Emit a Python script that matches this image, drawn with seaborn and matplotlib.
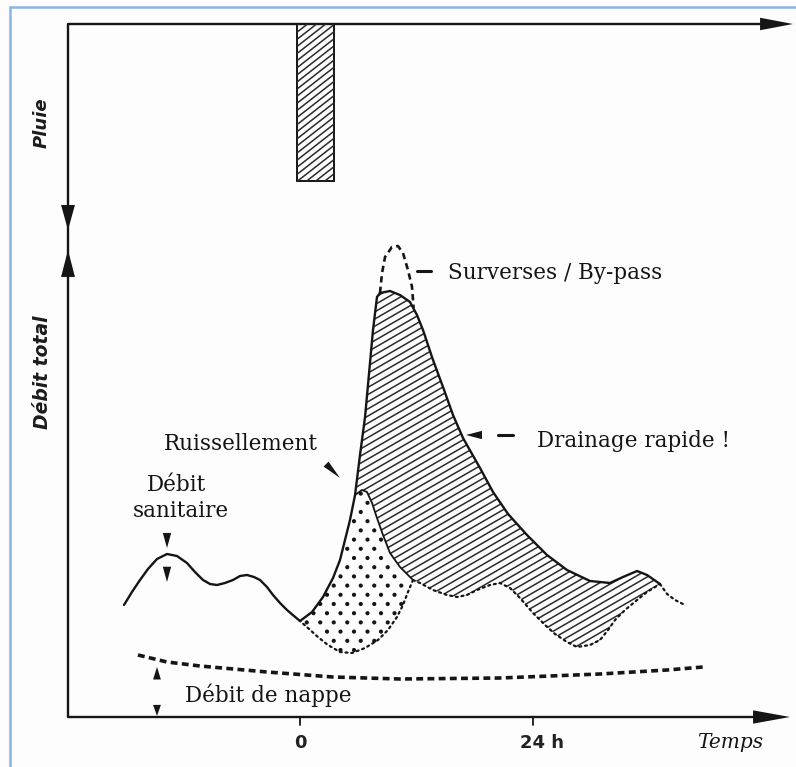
import numpy as np
import matplotlib
matplotlib.use("Agg")
import matplotlib.pyplot as plt
import seaborn as sns
from matplotlib.path import Path
from matplotlib.patches import Polygon
from matplotlib.collections import LineCollection
from matplotlib.lines import Line2D

# ---------------- data (time in hours, flow in arbitrary units) ----------------
total_t = [-18.13, -17.31, -16.48, -15.66, -14.73, -13.70, -12.67, -11.64, -10.82, -9.99,
           -9.27, -8.55, -7.73, -6.90, -6.18, -5.46, -4.74, -4.12, -3.40, -2.78,
           -2.06, -1.34, -0.62, 0.00, 1.24, 2.37, 3.40, 4.12, 5.15, 5.67,
           6.18, 6.70, 7.21, 7.52, 7.93, 8.24, 9.27, 10.30, 11.33, 12.05,
           12.67, 13.70, 14.73, 15.76, 16.79, 18.54, 19.88, 21.43, 23.38, 25.44,
           27.50, 29.87, 31.93, 33.27, 34.72, 35.75, 37.08]
total_q = [22.4, 25.0, 27.4, 29.6, 31.6, 32.6, 32.2, 30.8, 29.0, 27.4,
           26.6, 26.4, 26.8, 27.4, 28.2, 28.4, 28.0, 27.4, 26.0, 24.4,
           22.8, 21.4, 20.2, 19.2, 21.0, 24.0, 27.8, 31.4, 39.4, 44.4,
           52.4, 60.0, 70.8, 77.4, 84.0, 84.8, 85.2, 84.4, 83.0, 80.4,
           77.4, 71.4, 66.0, 60.4, 55.8, 49.8, 45.0, 40.6, 36.4, 32.4,
           29.4, 27.2, 26.8, 28.0, 29.2, 28.4, 26.6]

tail_t = [37.08, 37.81, 38.63, 39.45]
tail_q = [26.6, 24.6, 23.4, 22.6]

overflow_t = [8.24, 8.45, 8.76, 9.47, 10.09, 10.61, 11.12, 11.54, 11.70]
overflow_q = [84.8, 88.8, 92.0, 94.0, 94.2, 92.8, 89.4, 86.0, 81.8]

runoff_top_t = [5.67, 6.38, 6.90, 7.42, 7.93, 8.55, 9.27, 10.30, 11.02, 11.64]
runoff_top_q = [44.4, 45.4, 45.0, 42.8, 39.8, 36.4, 32.8, 30.0, 28.6, 27.4]

runoff_low_t = [11.64, 11.12, 10.61, 9.99, 9.06, 8.03, 6.70, 5.36, 4.12, 2.88, 1.85, 0.82, 0.00]
runoff_low_q = [27.4, 25.0, 22.4, 20.0, 17.4, 15.4, 13.8, 12.8, 13.0, 14.4, 16.0, 17.8, 19.2]

drain_low_t = [11.64, 12.36, 13.70, 15.14, 16.17, 17.20, 18.23, 19.57, 20.60, 21.63,
               22.66, 24.00, 25.24, 26.27, 27.50, 28.53, 29.87, 30.90, 31.73, 32.45,
               33.48, 34.72, 35.75, 37.08]
drain_low_q = [27.4, 26.8, 25.4, 24.4, 24.0, 24.4, 25.4, 26.4, 26.8, 25.8,
               23.8, 20.8, 18.4, 16.6, 15.0, 14.0, 14.4, 15.4, 17.4, 19.4,
               21.4, 23.4, 25.0, 26.6]

nappe_t = [-16.69, -13.70, -10.30, -3.40, 3.40, 10.30, 20.60, 30.90, 37.81, 41.51]
nappe_q = [12.4, 11.0, 10.2, 9.0, 8.0, 7.6, 7.8, 8.6, 9.4, 10.0]

rain_start_h = -0.3
rain_end_h = 3.5
rain_depth = 31.4

tick_hours = [0, 24]
tick_labels = ["0", "24 h"]

# ---------------- layout ----------------
W, H, DPI = 796, 767, 100
PX_PER_H = 233 / 24
PX_PER_Q = 5.0
X_ORIGIN = 300
Y_BASE = 717
Y_TOP = 24
X_AXIS = 68
INK = "#151515"
TXT = "#141414"
SERIF = "DejaVu Serif"


def t_of(px):
    return (px - X_ORIGIN) / PX_PER_H


def q_of(py):
    return (Y_BASE - py) / PX_PER_Q


sns.set_theme(style="white")
plt.rcParams["font.family"] = ["DejaVu Sans"]

fig = plt.figure(figsize=(W / DPI, H / DPI), dpi=DPI)
fig.patch.set_facecolor("#fdfdfd")
ax = fig.add_axes([0, 0, 1, 1])
ax.set_facecolor("none")
ax.axis("off")
ax.set_xlim(t_of(0), t_of(W))
ax.set_ylim(q_of(H), q_of(0))

ax_r = ax.twinx()
ax_r.axis("off")
ax_r.set_ylim((H - Y_TOP) / PX_PER_Q, (0 - Y_TOP) / PX_PER_Q)


def patch_vertices(p):
    return p.get_patch_transform().transform(p.get_path().vertices)


def hatch(axis, clip, sx, sy, angle, spacing, lw=1.1, color="#2a2a2a"):
    v = patch_vertices(clip)
    px = np.column_stack([v[:, 0] * sx, v[:, 1] * sy])
    th = np.radians(angle)
    d = np.array([np.cos(th), np.sin(th)])
    n = np.array([-np.sin(th), np.cos(th)])
    pn, pd_ = px @ n, px @ d
    segs = []
    for s in np.arange(pn.min() - spacing, pn.max() + spacing, spacing):
        p1 = n * s + d * (pd_.min() - 5)
        p2 = n * s + d * (pd_.max() + 5)
        segs.append([(p1[0] / sx, p1[1] / sy), (p2[0] / sx, p2[1] / sy)])
    lc = LineCollection(segs, colors=color, linewidths=lw)
    axis.add_collection(lc, autolim=False)
    lc.set_clip_path(clip)


def dots(axis, poly, sx, sy, dx, dy, size=7):
    v = patch_vertices(poly)
    pxv = np.column_stack([v[:, 0] * sx, v[:, 1] * sy])
    path = Path(pxv)
    pts = []
    for i, yy in enumerate(np.arange(pxv[:, 1].min() + 3, pxv[:, 1].max(), dy)):
        off = dx / 2 if i % 2 else 0
        for xx in np.arange(pxv[:, 0].min() + off, pxv[:, 0].max(), dx):
            pts.append((xx, yy))
    pts = np.array(pts)
    sel = pts[path.contains_points(pts, radius=-2.5) & path.contains_points(pts, radius=2.5)]
    sns.scatterplot(x=sel[:, 0] / sx, y=sel[:, 1] / sy, ax=axis, s=size,
                    color=INK, edgecolor="none", linewidth=0, legend=False)


def head(tail, tip, hl, hw, axis=ax):
    axis.annotate("", xy=tip, xytext=tail,
                  arrowprops=dict(arrowstyle=f"-|>,head_length={hl},head_width={hw}",
                                  color=INK, lw=0, shrinkA=0, shrinkB=0,
                                  mutation_scale=10))


tt = np.array(total_t)
tq = np.array(total_q)

# ---- drainage (hatched) region ----
m = (tt >= runoff_top_t[0]) & (tt <= drain_low_t[-1])
drain_xy = np.column_stack([
    np.concatenate([tt[m], drain_low_t[::-1][1:], runoff_top_t[::-1][1:]]),
    np.concatenate([tq[m], drain_low_q[::-1][1:], runoff_top_q[::-1][1:]])])
drain_poly = Polygon(drain_xy, closed=True, facecolor="none", edgecolor="none")
ax.add_patch(drain_poly)
hatch(ax, drain_poly, PX_PER_H, PX_PER_Q, angle=30, spacing=6.2)

# ---- runoff (dotted) region ----
m2 = (tt >= runoff_low_t[-1]) & (tt <= runoff_top_t[0])
runoff_xy = np.column_stack([
    np.concatenate([tt[m2], runoff_top_t[1:], runoff_low_t[1:]]),
    np.concatenate([tq[m2], runoff_top_q[1:], runoff_low_q[1:]])])
runoff_poly = Polygon(runoff_xy, closed=True, facecolor="none", edgecolor="none")
ax.add_patch(runoff_poly)
dots(ax, runoff_poly, PX_PER_H, PX_PER_Q, dx=13.5, dy=9.2, size=9)

# ---- rain bar ----
bars = ax_r.bar(rain_start_h, rain_depth, width=rain_end_h - rain_start_h, align="edge",
                facecolor="none", edgecolor=INK, linewidth=1.4)
hatch(ax_r, bars.patches[0], PX_PER_H, -PX_PER_Q, angle=38, spacing=5.6)

# ---- curves ----
sns.lineplot(x=total_t, y=total_q, ax=ax, sort=False, estimator=None, color=INK, lw=1.7)
sns.lineplot(x=runoff_top_t, y=runoff_top_q, ax=ax, sort=False, estimator=None, color=INK, lw=1.3)
sns.lineplot(x=overflow_t, y=overflow_q, ax=ax, sort=False, estimator=None, color=INK,
             lw=1.9, linestyle=(0, (2.4, 1.6)))
dotted = dict(sort=False, estimator=None, color=INK, lw=1.6,
              linestyle=(0, (0.9, 1.7)), dash_capstyle="round")
sns.lineplot(x=drain_low_t, y=drain_low_q, ax=ax, **dotted)
sns.lineplot(x=runoff_low_t, y=runoff_low_q, ax=ax, **dotted)
sns.lineplot(x=tail_t, y=tail_q, ax=ax, **dotted)
sns.lineplot(x=nappe_t, y=nappe_q, ax=ax, sort=False, estimator=None, color=INK,
             lw=2.6, linestyle=(0, (1.9, 1.2)))

# ---- axes (hand-drawn style) ----
ta = t_of(X_AXIS)
ax.plot([ta, ta], [0, q_of(Y_TOP)], color=INK, lw=1.7, solid_capstyle="butt")
ax.plot([ta, t_of(770)], [q_of(Y_TOP)] * 2, color=INK, lw=1.7)
ax.plot([ta, t_of(765)], [0, 0], color=INK, lw=1.7)
head((t_of(760), q_of(Y_TOP)), (t_of(793), q_of(Y_TOP)), 2.37, 0.45)
head((t_of(753), 0), (t_of(790), 0), 2.66, 0.48)
head((ta, q_of(205)), (ta, q_of(230)), 1.8, 0.5)
head((ta, q_of(277)), (ta, q_of(250)), 1.94, 0.5)

for h, lab in zip(tick_hours, tick_labels):
    ax.plot([h, h], [0, q_of(725)], color=INK, lw=1.3)
    ax.annotate(lab, xy=(h, 0), xytext=(6.5 if " " in lab else 0, -22),
                textcoords="offset points", ha="center", va="baseline",
                fontsize=13, fontweight="bold", color="#222222")

# ---- annotation marks ----
head((t_of(326), q_of(464)), (t_of(340), q_of(478)), 1.42, 0.25)
head((t_of(482), q_of(435)), (t_of(466), q_of(435)), 1.15, 0.3)
ax.plot([t_of(498), t_of(513)], [q_of(435)] * 2, color=INK, lw=2.2)
ax.plot([t_of(417), t_of(431)], [q_of(271)] * 2, color=INK, lw=2.2)
head((t_of(167), q_of(533)), (t_of(167), q_of(548)), 1.08, 0.3)
head((t_of(167), q_of(566)), (t_of(167), q_of(582)), 1.1, 0.3)
head((t_of(157), q_of(681)), (t_of(157), q_of(667)), 0.9, 0.28)
head((t_of(157), q_of(705)), (t_of(157), q_of(716)), 0.8, 0.28)

# ---- texts ----
tk = dict(fontfamily=SERIF, fontsize=15.5, color=TXT, va="baseline")
ax.text(t_of(448), q_of(279), "Surverses / By-pass", ha="left", **tk)
ax.text(t_of(537), q_of(447), "Drainage rapide !", ha="left", **tk)
ax.text(t_of(241), q_of(450), "Ruissellement", ha="center", **tk)
ax.text(t_of(177), q_of(491), "Débit", ha="center", **tk)
ax.text(t_of(181), q_of(517), "sanitaire", ha="center", **tk)
ax.text(t_of(268), q_of(702), "Débit de nappe", ha="center", **tk)
ax.text(t_of(697), q_of(748), "Temps", ha="left", va="baseline", fontfamily=SERIF,
        style="italic", fontsize=14.5, color=TXT)
ax.text(t_of(42), q_of(123), "Pluie", rotation=90, ha="center", va="center",
        style="italic", fontweight="bold", fontsize=13, color="#1c1c1c")
ax.text(t_of(43), q_of(372), "Débit total", rotation=90, ha="center", va="center",
        style="italic", fontweight="bold", fontsize=13.5, color="#1c1c1c")

# ---- light blue frame ----
fig.add_artist(Line2D([10 / W, 10 / W], [1 - 7 / H, 0], color="#8db4e6", lw=1.8,
                      transform=fig.transFigure))
fig.add_artist(Line2D([10 / W, 1], [1 - 7 / H, 1 - 7 / H], color="#8db4e6", lw=1.8,
                      transform=fig.transFigure))

ax.set_xlim(t_of(0), t_of(W))
ax.set_ylim(q_of(H), q_of(0))
ax_r.set_ylim((H - Y_TOP) / PX_PER_Q, (0 - Y_TOP) / PX_PER_Q)

fig.savefig("out.png", dpi=DPI, facecolor=fig.get_facecolor())
